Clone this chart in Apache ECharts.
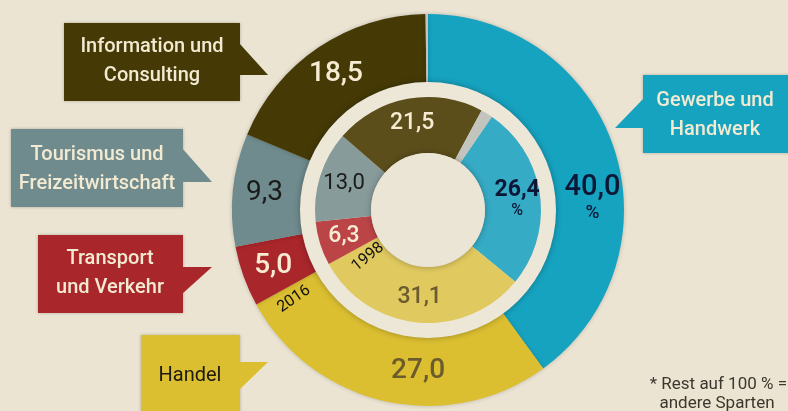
<!DOCTYPE html>
<html>
<head>
<meta charset="utf-8">
<script src="https://cdn.jsdelivr.net/npm/echarts@6/dist/echarts.min.js"></script>
<style>
  html, body { margin: 0; padding: 0; background: #ebe4d3; }
  #chart { width: 788px; height: 411px; }
</style>
</head>
<body>
<div id="chart"></div>
<script>
const sectors = ["Gewerbe und Handwerk", "Handel", "Transport und Verkehr", "Tourismus und Freizeitwirtschaft", "Information und Consulting", "Rest"];
const values2016 = [40.0, 27.0, 5.0, 9.3, 18.5, 0.2];
const values1998 = [26.4, 31.1, 6.3, 13.0, 21.5, 1.7];
const yearLabels = ["2016", "1998"];

const colors2016 = ["#16a3c0", "#dbbf31", "#a9262b", "#6f8b8d", "#453a06", "#c3c4bd"];
const colors1998 = ["#36abc5", "#e0c95f", "#bb4546", "#889b9b", "#5c4e1b", "#c3c4bd"];
const labelColors = ["#0c1836", "#6c5b2c", "#f6ecd3", "#1b1b1b", "#f6ecd3", "#000"];
const FONT = "Roboto, 'Noto Sans', sans-serif";

const fmt = (v) => v.toFixed(1).replace(".", ",");

function ringData(values, colors, sizes, weights, pctSize, offsets) {
  return values.map((v, i) => ({
    name: sectors[i],
    value: v,
    itemStyle: { color: colors[i] },
    label: {
      show: i < 5,
      color: labelColors[i],
      fontSize: sizes[i],
      fontWeight: weights[i],
      offset: offsets[i] || [0, 0],
      formatter: i === 0 ? "{a|" + fmt(v) + "}\n{p|%}" : fmt(v),
      rich: {
        a: { fontSize: sizes[i], color: labelColors[i], fontWeight: weights[i], fontFamily: FONT, lineHeight: sizes[i] },
        p: { fontSize: pctSize, color: labelColors[i], fontWeight: 500, fontFamily: FONT, lineHeight: pctSize + 3 },
      },
    },
  }));
}

const chart = echarts.init(document.getElementById("chart"));

const box = (x, y, w, h, color, tri) => [
  { type: "rect", shape: { x: x, y: y, width: w, height: h }, style: { fill: color, shadowBlur: 3, shadowColor: "rgba(0,0,0,0.25)" }, z: 1 },
  { type: "polygon", shape: { points: tri }, style: { fill: color }, z: 1 },
];
const boxText = (x, y, text, color, weight) => ({
  type: "text", x: x, y: y, z: 2,
  style: { text: text, fill: color, font: (weight || 500) + " 20px " + FONT, align: "center", verticalAlign: "middle", lineHeight: 29 },
});
const smallText = (x, y, text, align, rot) => ({
  type: "text", x: x, y: y, rotation: rot || 0, z: 10,
  style: { text: text, fill: rot ? "#111" : "#3b372c", font: "400 " + (rot ? 16 : 17) + "px " + FONT, align: align, verticalAlign: "middle" },
});

const option = {
  backgroundColor: "#ebe4d3",
  animation: false,
  series: [
    {
      type: "pie", silent: true, center: [428, 210], radius: [127, 196],
      startAngle: 90, clockwise: true, z: 2,
      label: { position: "inside", fontFamily: FONT },
      labelLine: { show: false },
      itemStyle: { shadowBlur: 4, shadowColor: "rgba(0,0,0,0.2)" },
      data: ringData(values2016, colors2016, [29, 28, 28, 28, 28, 0], [500, 500, 500, 400, 500, 400], 19, [[8, 40], [26, 0]]),
    },
    {
      type: "pie", silent: true, center: [428, 210], radius: [112, 128],
      z: 3, label: { show: false },
      itemStyle: { color: "#ede7d8", shadowBlur: 6, shadowColor: "rgba(0,0,0,0.3)" },
      data: [1],
    },
    {
      type: "pie", silent: true, center: [428, 210], radius: [57, 113],
      startAngle: 55.6, clockwise: true, z: 4,
      label: { position: "inside", fontFamily: FONT },
      labelLine: { show: false },
      data: ringData(values1998, colors1998, [23, 23, 23, 22, 23, 0], [700, 500, 500, 400, 500, 400], 16, [[2, 2], [0, 0]]),
    },
    {
      type: "pie", silent: true, center: [428, 210], radius: [0, 57],
      z: 5, label: { show: false },
      itemStyle: { color: "#ebe5d5", shadowBlur: 6, shadowColor: "rgba(0,0,0,0.3)" },
      data: [1],
    },
  ],
  graphic: {
    elements: [
      ...box(64, 23, 176, 78, colors2016[4], [[239, 43], [268, 75], [239, 75]]),
      boxText(152, 61, "Information und\nConsulting", "#f3ead2"),
      ...box(11, 129, 172, 78, colors2016[3], [[182, 148], [212, 182], [182, 182]]),
      boxText(97, 169, "Tourismus und\nFreizeitwirtschaft", "#f3ead2"),
      ...box(38, 235, 145, 78, colors2016[2], [[182, 267], [212, 267], [182, 294]]),
      boxText(110, 273, "Transport\nund Verkehr", "#f3ead2"),
      ...box(141, 335, 99, 80, colors2016[1], [[239, 362], [268, 362], [239, 390]]),
      boxText(190, 376, "Handel", "#1d1a10", 400),
      ...box(643, 75, 150, 78, colors2016[0], [[644, 98], [615, 128], [644, 128]]),
      boxText(715, 115, "Gewerbe und\nHandwerk", "#f3ead2"),
      smallText(294, 299, yearLabels[0], "center", 0.6),
      smallText(368, 257, yearLabels[1], "center", 0.68),
      smallText(787, 385, "* Rest auf 100 % =", "right"),
      smallText(717, 404, "andere Sparten", "center"),
    ],
  },
};
chart.setOption(option);
</script>
</body>
</html>
